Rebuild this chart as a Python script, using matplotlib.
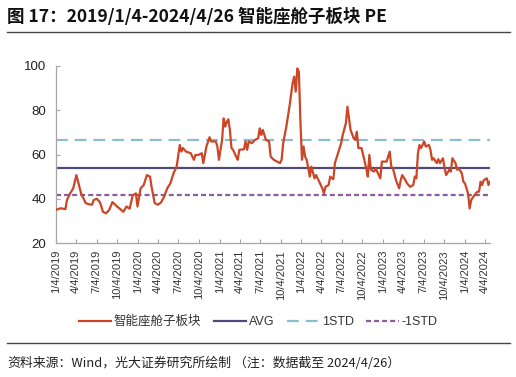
import numpy as np
import pandas as pd
import matplotlib
matplotlib.use("Agg")
import matplotlib.pyplot as plt
from matplotlib.lines import Line2D

plt.rcParams['font.family'] = ['Liberation Sans', 'Noto Sans CJK SC', 'DejaVu Sans']
plt.rcParams['lines.scale_dashes'] = False

# ---- data (weekly index from 2019-01-04) ----
start_date = "2019-01-04"
weeks = [0, 3, 6, 7, 9, 11, 13, 14, 16, 19, 21, 23, 24, 26, 28, 30, 32, 34, 36, 39,
         41, 43, 45, 47, 49, 51, 52, 54, 56, 58, 60, 61, 63, 65, 67, 69, 71, 73, 75, 77,
         79, 80, 81, 83, 86, 88, 89, 91, 93, 94, 96, 98, 99, 102, 103, 104, 106, 107, 108, 109,
         110, 111, 112, 113, 115, 116, 117, 120, 121, 122, 123, 125, 127, 129, 130, 131, 132, 134, 136, 137,
         139, 141, 143, 144, 145, 147, 149, 151, 152, 153, 154, 155, 156, 157, 158, 159, 160, 162, 163, 165,
         166, 168, 170, 171, 172, 174, 175, 177, 178, 180, 182, 183, 185, 186, 187, 188, 190, 191, 192, 193,
         195, 196, 198, 199, 200, 201, 203, 204, 206, 207, 208, 210, 211, 213, 214, 215, 217, 219, 220, 221,
         223, 224, 226, 228, 229, 230, 231, 232, 233, 235, 236, 238, 239, 240, 241, 243, 244, 245, 247, 248,
         249, 251, 252, 253, 255, 256, 257, 259, 260, 261, 263, 264, 265, 267, 269, 270, 271, 272, 273, 275,
         276, 277]
pe = [35.0, 35.7, 35.3, 39.4, 42.4, 44.7, 50.7, 48.0, 42.4, 38.0, 37.5, 37.3, 39.4, 40.0, 38.5, 34.1, 33.4, 35.0, 38.5, 36.5,
      35.3, 34.1, 36.5, 35.5, 41.6, 42.4, 36.5, 44.7, 46.2, 50.7, 50.0, 45.4, 38.0, 37.3, 38.3, 40.9, 44.7, 47.0, 51.5, 54.5,
      64.3, 61.3, 62.9, 61.3, 60.6, 57.6, 59.8, 59.8, 60.6, 56.1, 63.6, 67.8, 65.9, 65.9, 63.6, 57.6, 66.6, 76.3, 72.6, 74.8,
      75.9, 71.1, 62.9, 62.1, 59.0, 57.6, 62.1, 62.4, 65.9, 62.1, 65.9, 65.1, 66.6, 67.3, 71.8, 68.8, 71.1, 66.6, 65.9, 59.0,
      57.6, 56.8, 56.1, 57.6, 65.1, 72.6, 81.6, 92.2, 95.2, 88.4, 98.9, 97.4, 75.0, 57.6, 63.6, 59.0, 57.6, 50.0, 54.5, 49.2,
      50.7, 47.7, 44.7, 42.4, 45.4, 46.2, 50.0, 48.8, 56.1, 60.6, 65.1, 68.8, 74.1, 81.6, 76.3, 71.1, 67.3, 66.6, 70.3, 62.9,
      62.9, 59.8, 53.8, 50.0, 59.8, 53.1, 52.3, 53.8, 50.7, 49.2, 56.8, 56.8, 56.8, 61.3, 54.5, 53.8, 48.4, 44.7, 48.4, 50.7,
      48.4, 47.0, 45.4, 46.2, 50.0, 49.2, 60.6, 64.3, 62.9, 65.9, 63.6, 64.3, 62.1, 57.6, 58.3, 56.1, 57.9, 56.1, 58.3, 53.8,
      50.7, 53.1, 52.3, 58.3, 56.1, 53.1, 53.8, 51.5, 47.7, 47.0, 42.4, 35.6, 39.4, 41.6, 43.2, 43.2, 47.7, 46.2, 48.4, 49.2,
      46.2, 47.7]
avg_val = 54.0
plus_std = 66.4
minus_std = 41.6

tick_labels = ["1/4/2019", "4/4/2019", "7/4/2019", "10/4/2019", "1/4/2020", "4/4/2020", "7/4/2020",
               "10/4/2020", "1/4/2021", "4/4/2021", "7/4/2021", "10/4/2021", "1/4/2022", "4/4/2022",
               "7/4/2022", "10/4/2022", "1/4/2023", "4/4/2023", "7/4/2023", "10/4/2023", "1/4/2024", "4/4/2024"]
end_date = "2024-04-26"

series_name = "智能座舱子板块"
title = "图 17：2019/1/4-2024/4/26 智能座舱子板块 PE"
source_a = "资料来源：Wind，光大证券研究所绘制"
source_b = "（注：数据截至 2024/4/26）"

# ---- plot ----
dates = pd.Timestamp(start_date) + pd.to_timedelta(np.array(weeks) * 7, unit="D")
tick_dates = [pd.Timestamp(f"{t.split('/')[2]}-{int(t.split('/')[0]):02d}-{int(t.split('/')[1]):02d}") for t in tick_labels]

W, H = 516, 377
fig = plt.figure(figsize=(W/100, H/100), dpi=100)
ax = fig.add_axes([56/W, 1-243/H, (490-56)/W, (243-66)/H])

c_red = "#CC4525"
c_avg = "#4F4A78"
c_p = "#8DBBD0"
c_m = "#8B5C9C"

ax.plot(dates, pe, color=c_red, lw=1.6, zorder=3)
x0, x1 = pd.Timestamp(start_date), pd.Timestamp(end_date)
ax.hlines(avg_val, x0, x1, color=c_avg, lw=1.6, zorder=2)
ax.hlines(plus_std, x0, x1, color=c_p, lw=1.6, linestyles=[(0, (8.5, 5))], zorder=2)
ax.hlines(minus_std, x0, x1, color=c_m, lw=1.6, linestyles=[(0, (3.6, 2.2))], zorder=2)

ax.set_xlim(x0, x1)
ax.set_ylim(20, 100)
ax.set_yticks([20, 40, 60, 80, 100])
ax.set_xticks(tick_dates)
ax.set_xticklabels(tick_labels, rotation=90)
for s in ["top", "right"]:
    ax.spines[s].set_visible(False)
for s in ["left", "bottom"]:
    ax.spines[s].set_color("#A6A6A6")
    ax.spines[s].set_linewidth(0.9)
ax.tick_params(axis="both", direction="in", length=3, color="#A6A6A6", width=0.8)
ax.tick_params(axis="y", labelsize=9.5, pad=7, labelcolor="#222222")
ax.tick_params(axis="x", labelsize=8, pad=5, labelcolor="#333333")

handles = [Line2D([], [], color=c_red, lw=1.6),
           Line2D([], [], color=c_avg, lw=1.6),
           Line2D([], [], color=c_p, lw=1.6, ls=(0, (8.5, 5))),
           Line2D([], [], color=c_m, lw=1.6, ls=(0, (3.6, 2.2)))]
fig.legend(handles, [series_name, "AVG", "1STD", "-1STD"], loc="center",
           bbox_to_anchor=(0.5, 1-322/H), ncol=4, frameon=False, fontsize=9,
           handlelength=2.6, handletextpad=0.2, columnspacing=1.0, labelcolor="#333333")

cjk = ["Noto Sans CJK SC", "DejaVu Sans"]
renderer = fig.canvas.get_renderer()


def fit_text(x, y, s, target_right, size, **kw):
    t = fig.text(x/W, 1-y/H, s, fontsize=size, va="center", ha="left", family=cjk, **kw)
    for _ in range(3):
        bb = t.get_window_extent(renderer)
        size = size * (target_right - x) / bb.width
        t.set_fontsize(size)
    return t


fit_text(7, 17, title, 387, 11, fontweight="bold", color="#111111")
fig.add_artist(Line2D([7/W, 510/W], [1-32/H, 1-32/H], color="#444444", lw=1.0))
fig.add_artist(Line2D([7/W, 510/W], [1-343/H, 1-343/H], color="#444444", lw=1.0))
t1 = fit_text(7, 363, source_a, 231, 8.5, color="#222222")
bb = t1.get_window_extent(renderer)
t2 = fig.text((bb.x1 + 3)/W, 1-363/H, source_b, fontsize=t1.get_fontsize(), va="center",
              ha="left", style="italic", family=cjk, color="#222222")

fig.savefig("out.png", dpi=100)
